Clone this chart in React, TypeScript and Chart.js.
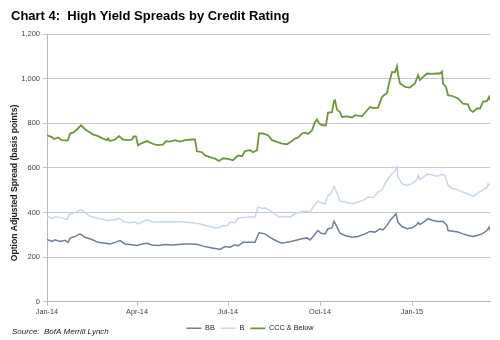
import React, { useEffect, useRef } from "react";
import { Chart, registerables } from "chart.js";

Chart.register(...registerables);

// x positions are day offsets from 1 Jan 2014
const tickDays = [0, 90, 181, 273, 365];
const tickLabels = ["Jan-14", "Apr-14", "Jul-14", "Oct-14", "Jan-15"];
const seriesNames = ["BB", "B", "CCC & Below"];

const bbDays = [0, 5, 8, 13, 18, 21, 23, 28, 33, 38, 45, 51, 58, 63, 68, 73, 78, 83, 90, 95, 100, 105, 111, 118, 125, 131, 138, 145, 151, 158, 165, 170, 173, 178, 183, 188, 191, 196, 203, 208, 212, 218, 223, 230, 235, 240, 245, 250, 255, 260, 263, 267, 271, 274, 278, 281, 285, 287, 290, 293, 298, 305, 311, 318, 323, 328, 333, 336, 340, 343, 346, 349, 351, 355, 360, 365, 370, 371, 373, 378, 381, 386, 391, 396, 400, 401, 406, 411, 416, 421, 426, 430, 435, 440, 442, 443];
const bbValues = [279, 270, 277, 270, 275, 266, 285, 292, 304, 289, 279, 266, 262, 259, 266, 274, 259, 256, 252, 259, 262, 254, 252, 256, 254, 256, 259, 259, 256, 247, 241, 237, 234, 247, 244, 255, 250, 266, 266, 266, 309, 304, 288, 271, 262, 267, 271, 277, 282, 286, 277, 297, 319, 307, 304, 327, 331, 361, 334, 307, 297, 289, 292, 304, 315, 312, 327, 322, 342, 364, 379, 394, 356, 337, 327, 331, 346, 355, 346, 361, 372, 364, 360, 361, 342, 319, 316, 312, 304, 297, 292, 297, 304, 319, 334, 319];

const bDays = [0, 5, 8, 13, 20, 22, 26, 31, 34, 38, 43, 50, 56, 61, 68, 72, 76, 83, 88, 91, 100, 106, 113, 121, 128, 133, 138, 145, 151, 156, 161, 166, 171, 175, 180, 183, 188, 191, 198, 203, 208, 211, 216, 218, 223, 228, 233, 238, 243, 248, 253, 258, 263, 266, 271, 275, 278, 281, 284, 287, 290, 293, 298, 305, 311, 316, 321, 326, 331, 335, 338, 341, 345, 348, 350, 351, 355, 360, 365, 370, 371, 373, 376, 380, 385, 390, 395, 398, 401, 406, 411, 416, 421, 426, 430, 435, 440, 441, 443];
const bValues = [383, 374, 380, 378, 369, 390, 397, 406, 413, 399, 383, 374, 369, 364, 367, 376, 360, 354, 357, 349, 367, 357, 357, 360, 357, 360, 357, 354, 351, 345, 338, 334, 329, 341, 341, 356, 354, 374, 378, 380, 380, 424, 418, 421, 409, 391, 379, 383, 379, 394, 401, 406, 401, 424, 451, 442, 439, 476, 484, 517, 487, 451, 447, 439, 447, 454, 469, 466, 491, 502, 529, 551, 574, 586, 604, 559, 529, 521, 529, 547, 566, 547, 556, 571, 569, 562, 571, 565, 521, 506, 502, 491, 484, 472, 484, 499, 511, 529, 520];

const cccDays = [0, 5, 7, 11, 15, 20, 21, 23, 26, 30, 34, 38, 41, 46, 51, 56, 60, 61, 63, 68, 72, 76, 81, 85, 87, 89, 91, 95, 100, 105, 110, 116, 119, 123, 128, 133, 138, 145, 148, 150, 155, 158, 163, 168, 172, 176, 181, 186, 191, 195, 198, 203, 206, 210, 212, 216, 221, 225, 230, 235, 240, 245, 248, 251, 255, 258, 261, 265, 268, 270, 272, 275, 279, 281, 285, 287, 288, 290, 293, 295, 300, 305, 308, 315, 320, 323, 326, 331, 335, 340, 342, 345, 348, 350, 351, 353, 358, 363, 368, 371, 373, 375, 380, 385, 390, 393, 395, 396, 399, 401, 406, 411, 416, 421, 423, 426, 430, 433, 436, 440, 442, 443];
const cccValues = [746, 738, 729, 736, 724, 722, 724, 754, 758, 772, 791, 773, 764, 750, 742, 731, 724, 731, 720, 727, 742, 727, 724, 727, 742, 740, 701, 711, 720, 709, 702, 704, 720, 718, 724, 718, 724, 727, 727, 674, 670, 656, 648, 641, 631, 643, 640, 634, 655, 652, 675, 679, 670, 679, 754, 754, 746, 724, 716, 709, 706, 720, 731, 736, 754, 758, 752, 768, 806, 817, 800, 791, 791, 848, 850, 900, 903, 861, 850, 828, 831, 826, 836, 831, 858, 873, 868, 870, 918, 936, 978, 1030, 1028, 1056, 1020, 978, 963, 960, 978, 1015, 993, 1003, 1023, 1021, 1023, 1023, 1032, 978, 963, 926, 921, 911, 888, 885, 861, 851, 866, 866, 896, 900, 918, 903];

const titleText = "Chart 4:  High Yield Spreads by Credit Rating";
const yTitleText = "Option Adjusted Spread (basis points)";
const sourceText = "Source:  BofA Merrill Lynch";

const colors = ["#6e8096", "#c6d7ea", "#6b9a35"];
const FONT = "'Liberation Sans', Arial, sans-serif";

const toPoints = (days: number[], vals: number[]) => days.map((d, i) => ({ x: d, y: vals[i] }));

export default function App() {
  const ref = useRef<HTMLCanvasElement>(null);
  useEffect(() => {
    const textPlugin = {
      id: "texts",
      afterDraw(chart: any) {
        const ctx = chart.ctx;
        ctx.save();
        ctx.fillStyle = "#000";
        ctx.textAlign = "left";
        ctx.textBaseline = "alphabetic";
        ctx.font = `bold 13px ${FONT}`;
        ctx.fillText(titleText, 11, 20);
        ctx.font = `italic 8px ${FONT}`;
        ctx.fillStyle = "#222";
        ctx.fillText(sourceText, 12, 333.5);
        ctx.translate(14.5, 183);
        ctx.rotate(-Math.PI / 2);
        ctx.textAlign = "center";
        ctx.textBaseline = "middle";
        ctx.font = `bold 8.6px ${FONT}`;
        ctx.fillStyle = "#1a1a1a";
        ctx.fillText(yTitleText, 0, 0);
        ctx.restore();
      },
    };
    const chart = new Chart(ref.current as HTMLCanvasElement, {
      type: "line",
      data: {
        datasets: [
          { label: seriesNames[0], data: toPoints(bbDays, bbValues), borderColor: colors[0], backgroundColor: colors[0], borderWidth: 1.5 },
          { label: seriesNames[1], data: toPoints(bDays, bValues), borderColor: colors[1], backgroundColor: colors[1], borderWidth: 1.5 },
          { label: seriesNames[2], data: toPoints(cccDays, cccValues), borderColor: colors[2], backgroundColor: colors[2], borderWidth: 1.8 },
        ],
      },
      options: {
        animation: false,
        responsive: false,
        parsing: false,
        elements: { point: { radius: 0 }, line: { tension: 0 } },
        layout: { padding: { top: 34, right: 0, left: 0, bottom: -2 } },
        plugins: {
          title: { display: false },
          tooltip: { enabled: false },
          legend: {
            position: "bottom",
            labels: {
              usePointStyle: true,
              pointStyle: "line",
              pointStyleWidth: 15,
              boxHeight: 7.3,
              padding: 6,
              color: "#222",
              font: { family: FONT, size: 7.3 },
            },
          },
        },
        scales: {
          x: {
            type: "linear",
            min: 0,
            max: 443,
            afterBuildTicks: (scale: any) => {
              scale.ticks = tickDays.map((v) => ({ value: v }));
            },
            afterFit: (scale: any) => {
              scale.height = 17;
            },
            ticks: {
              autoSkip: false,
              maxRotation: 0,
              padding: 2,
              color: "#444",
              font: { family: FONT, size: 7.3 },
              callback: (v: any) => {
                const i = tickDays.indexOf(Number(v));
                return i >= 0 ? tickLabels[i] : "";
              },
            },
            grid: { drawOnChartArea: false, drawTicks: true, tickLength: 4, color: "#b8b8b8" },
            border: { display: true, color: "#b8b8b8", width: 1 },
          },
          y: {
            min: 0,
            max: 1200,
            afterFit: (scale: any) => {
              scale.width = 47;
            },
            ticks: {
              stepSize: 200,
              padding: 3,
              color: "#444",
              font: { family: FONT, size: 7.5 },
              callback: (v: any) => Number(v).toLocaleString("en-US"),
            },
            grid: { color: "#c8c8c8", lineWidth: 1, tickLength: 4, drawTicks: true },
            border: { display: true, color: "#b8b8b8", width: 1 },
          },
          yRight: {
            position: "right",
            display: true,
            min: 0,
            max: 1200,
            afterFit: (scale: any) => {
              scale.width = 10;
            },
            ticks: { display: false },
            grid: { display: false, drawTicks: false },
            border: { display: false },
          },
        },
      },
      plugins: [textPlugin],
    } as any);
    return () => chart.destroy();
  }, []);
  return (
    <div style={{ position: "absolute", left: 0, top: 0, width: 500, height: 340, background: "#fff" }}>
      <canvas ref={ref} width={500} height={340} style={{ display: "block" }} />
    </div>
  );
}
